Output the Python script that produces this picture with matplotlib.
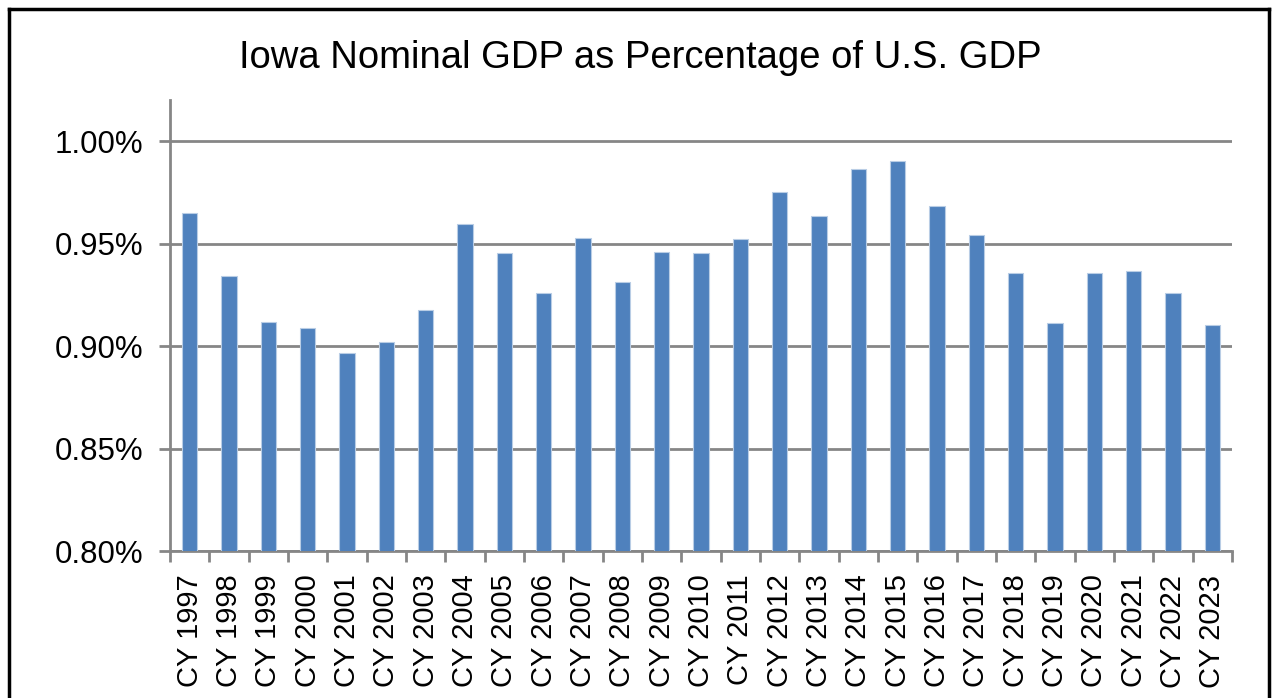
import matplotlib
matplotlib.use("Agg")
import matplotlib.pyplot as plt
from matplotlib.lines import Line2D
import numpy as np

years = list(range(1997, 2024))
labels = ["CY %d" % y for y in years]
share = [0.9647, 0.9341, 0.9115, 0.9086, 0.8967, 0.9020, 0.9176, 0.9593,
         0.9452, 0.9257, 0.9528, 0.9311, 0.9460, 0.9452, 0.9520, 0.9753,
         0.9633, 0.9865, 0.9901, 0.9684, 0.9543, 0.9354, 0.9111, 0.9354,
         0.9364, 0.9259, 0.9101]

plt.rcParams['font.family'] = ['Liberation Sans', 'DejaVu Sans']

fig = plt.figure(figsize=(12.73, 6.98), dpi=100)
ax = fig.add_axes([170/1273, 1 - 551/698, (1232-170)/1273, (551-100)/698])

x = np.arange(len(years))
ax.bar(x, share, width=0.39, bottom=0, color="#4F81BD", edgecolor="#B9CDE5",
       linewidth=0.8, zorder=3)

ax.set_xlim(-0.5, len(years) - 0.5)
ax.set_ylim(0.80, 1.02)
ax.set_yticks([0.80, 0.85, 0.90, 0.95, 1.00])
ax.set_yticklabels(["%.2f%%" % v for v in [0.80, 0.85, 0.90, 0.95, 1.00]], fontsize=22.5)
ax.yaxis.grid(True, color="#868686", linewidth=2, zorder=0)

ax.set_xticks(x)
ax.set_xticklabels(labels, rotation=90, fontsize=21)
ax.set_xticks(np.arange(-0.5, len(years)), minor=True)
ax.tick_params(axis="x", which="major", length=0, pad=17)
ax.tick_params(axis="x", which="minor", length=8, width=2, color="#868686")
ax.tick_params(axis="y", length=8, width=2, color="#868686", pad=11)

for s in ["top", "right"]:
    ax.spines[s].set_visible(False)
for s in ["left", "bottom"]:
    ax.spines[s].set_color("#868686")
    ax.spines[s].set_linewidth(2)

fig.text(640/1273, 1 - 68/698, "Iowa Nominal GDP as Percentage of U.S. GDP",
         ha="center", va="baseline", fontsize=27.5)

# chart border
fig.add_artist(Line2D([9/1273, 9/1273], [0, 1 - 9/698], color="black", lw=2.5, transform=fig.transFigure))
fig.add_artist(Line2D([9/1273, 1269/1273], [1 - 9/698, 1 - 9/698], color="black", lw=2.5, transform=fig.transFigure))
fig.add_artist(Line2D([1269/1273, 1269/1273], [0, 1 - 9/698], color="black", lw=2.5, transform=fig.transFigure))

fig.savefig("out.png", dpi=100)
